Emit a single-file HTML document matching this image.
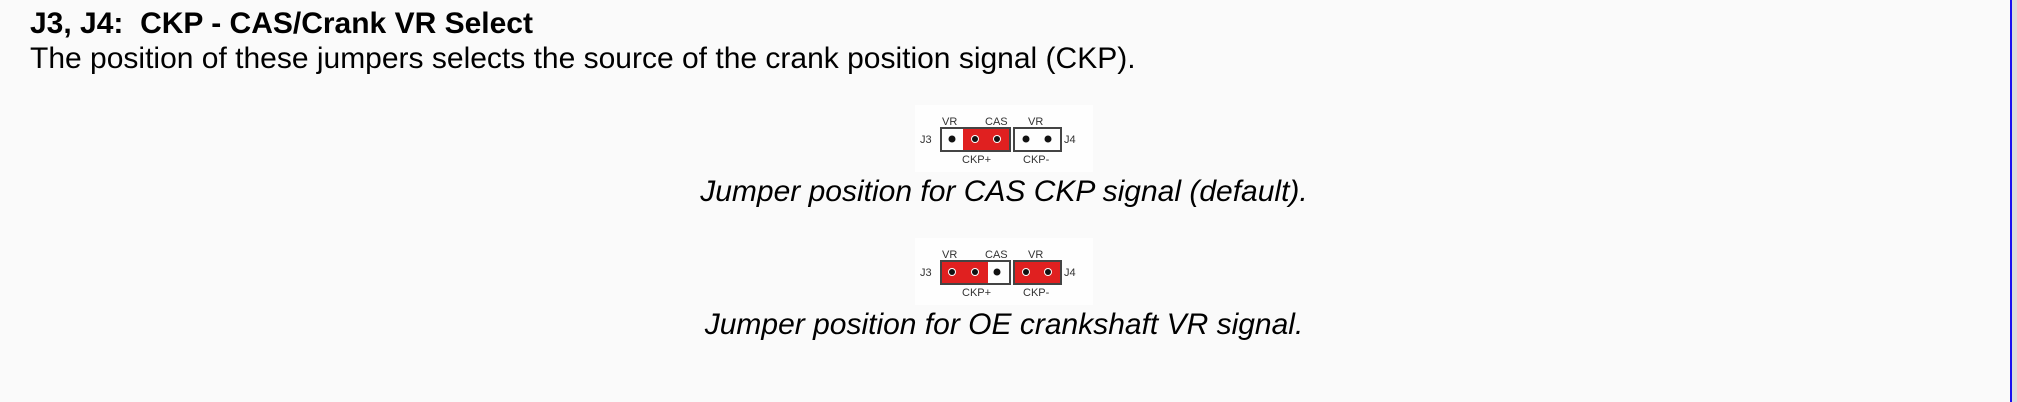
<!DOCTYPE html>
<html><head><meta charset="utf-8"><style>
html,body{margin:0;padding:0}
body{width:2017px;height:402px;background:#fafafa;position:relative;overflow:hidden;font-family:"Liberation Sans",Arial,sans-serif;color:#000}
.t{position:absolute;left:30px;top:7px;font-size:30px;font-weight:bold;white-space:nowrap}
.p{position:absolute;left:30px;top:42px;font-size:30px;white-space:nowrap}
.c{position:absolute;left:0;width:2008px;text-align:center;font-size:30px;font-style:italic;white-space:nowrap}
.bar{position:absolute;left:2010px;top:0;width:2px;height:402px;background:#1a0ff0}
.gr{position:absolute;left:2012px;top:0;width:5px;height:402px;background:#dcdcdc}
svg{position:absolute;left:915px}
svg text{font-family:"Liberation Sans",sans-serif;font-size:11px;fill:#333}
</style></head><body>
<div class="t">J3, J4:&nbsp; CKP - CAS/Crank VR Select</div>
<div class="p">The position of these jumpers selects the source of the crank position signal (CKP).</div>

<svg style="top:105px" width="178" height="67" viewBox="0 0 178 67">
<rect width="178" height="67" fill="#fefefe"/>
<text x="27" y="20">VR</text><text x="70" y="20">CAS</text><text x="113" y="20">VR</text>
<text x="5" y="38">J3</text><text x="149" y="38">J4</text>
<rect x="48" y="23" width="47" height="23" fill="#e02020"/>
<rect x="26" y="23" width="69" height="23" fill="none" stroke="#444" stroke-width="2"/>
<rect x="99" y="23" width="47" height="23" fill="none" stroke="#444" stroke-width="2"/>
<circle cx="37" cy="34" r="3.5" fill="#111"/>
<circle cx="60" cy="34" r="4" fill="#fff"/><circle cx="60" cy="34" r="3" fill="#111"/>
<circle cx="82" cy="34" r="4" fill="#fff"/><circle cx="82" cy="34" r="3" fill="#111"/>
<circle cx="111" cy="34" r="3.5" fill="#111"/><circle cx="133" cy="34" r="3.5" fill="#111"/>
<text x="47" y="58">CKP+</text><text x="108" y="58">CKP-</text>
</svg>
<div class="c" style="top:175px">Jumper position for CAS CKP signal (default).</div>

<svg style="top:238px" width="178" height="67" viewBox="0 0 178 67">
<rect width="178" height="67" fill="#fefefe"/>
<text x="27" y="20">VR</text><text x="70" y="20">CAS</text><text x="113" y="20">VR</text>
<text x="5" y="38">J3</text><text x="149" y="38">J4</text>
<rect x="26" y="23" width="47" height="23" fill="#e02020"/>
<rect x="99" y="23" width="47" height="23" fill="#e02020"/>
<rect x="26" y="23" width="69" height="23" fill="none" stroke="#444" stroke-width="2"/>
<rect x="99" y="23" width="47" height="23" fill="none" stroke="#444" stroke-width="2"/>
<circle cx="37" cy="34" r="4" fill="#fff"/><circle cx="37" cy="34" r="3" fill="#111"/>
<circle cx="60" cy="34" r="4" fill="#fff"/><circle cx="60" cy="34" r="3" fill="#111"/>
<circle cx="82" cy="34" r="3.5" fill="#111"/>
<circle cx="111" cy="34" r="4" fill="#fff"/><circle cx="111" cy="34" r="3" fill="#111"/>
<circle cx="133" cy="34" r="4" fill="#fff"/><circle cx="133" cy="34" r="3" fill="#111"/>
<text x="47" y="58">CKP+</text><text x="108" y="58">CKP-</text>
</svg>
<div class="c" style="top:308px">Jumper position for OE crankshaft VR signal.</div>

<div class="bar"></div><div class="gr"></div>
</body></html>
